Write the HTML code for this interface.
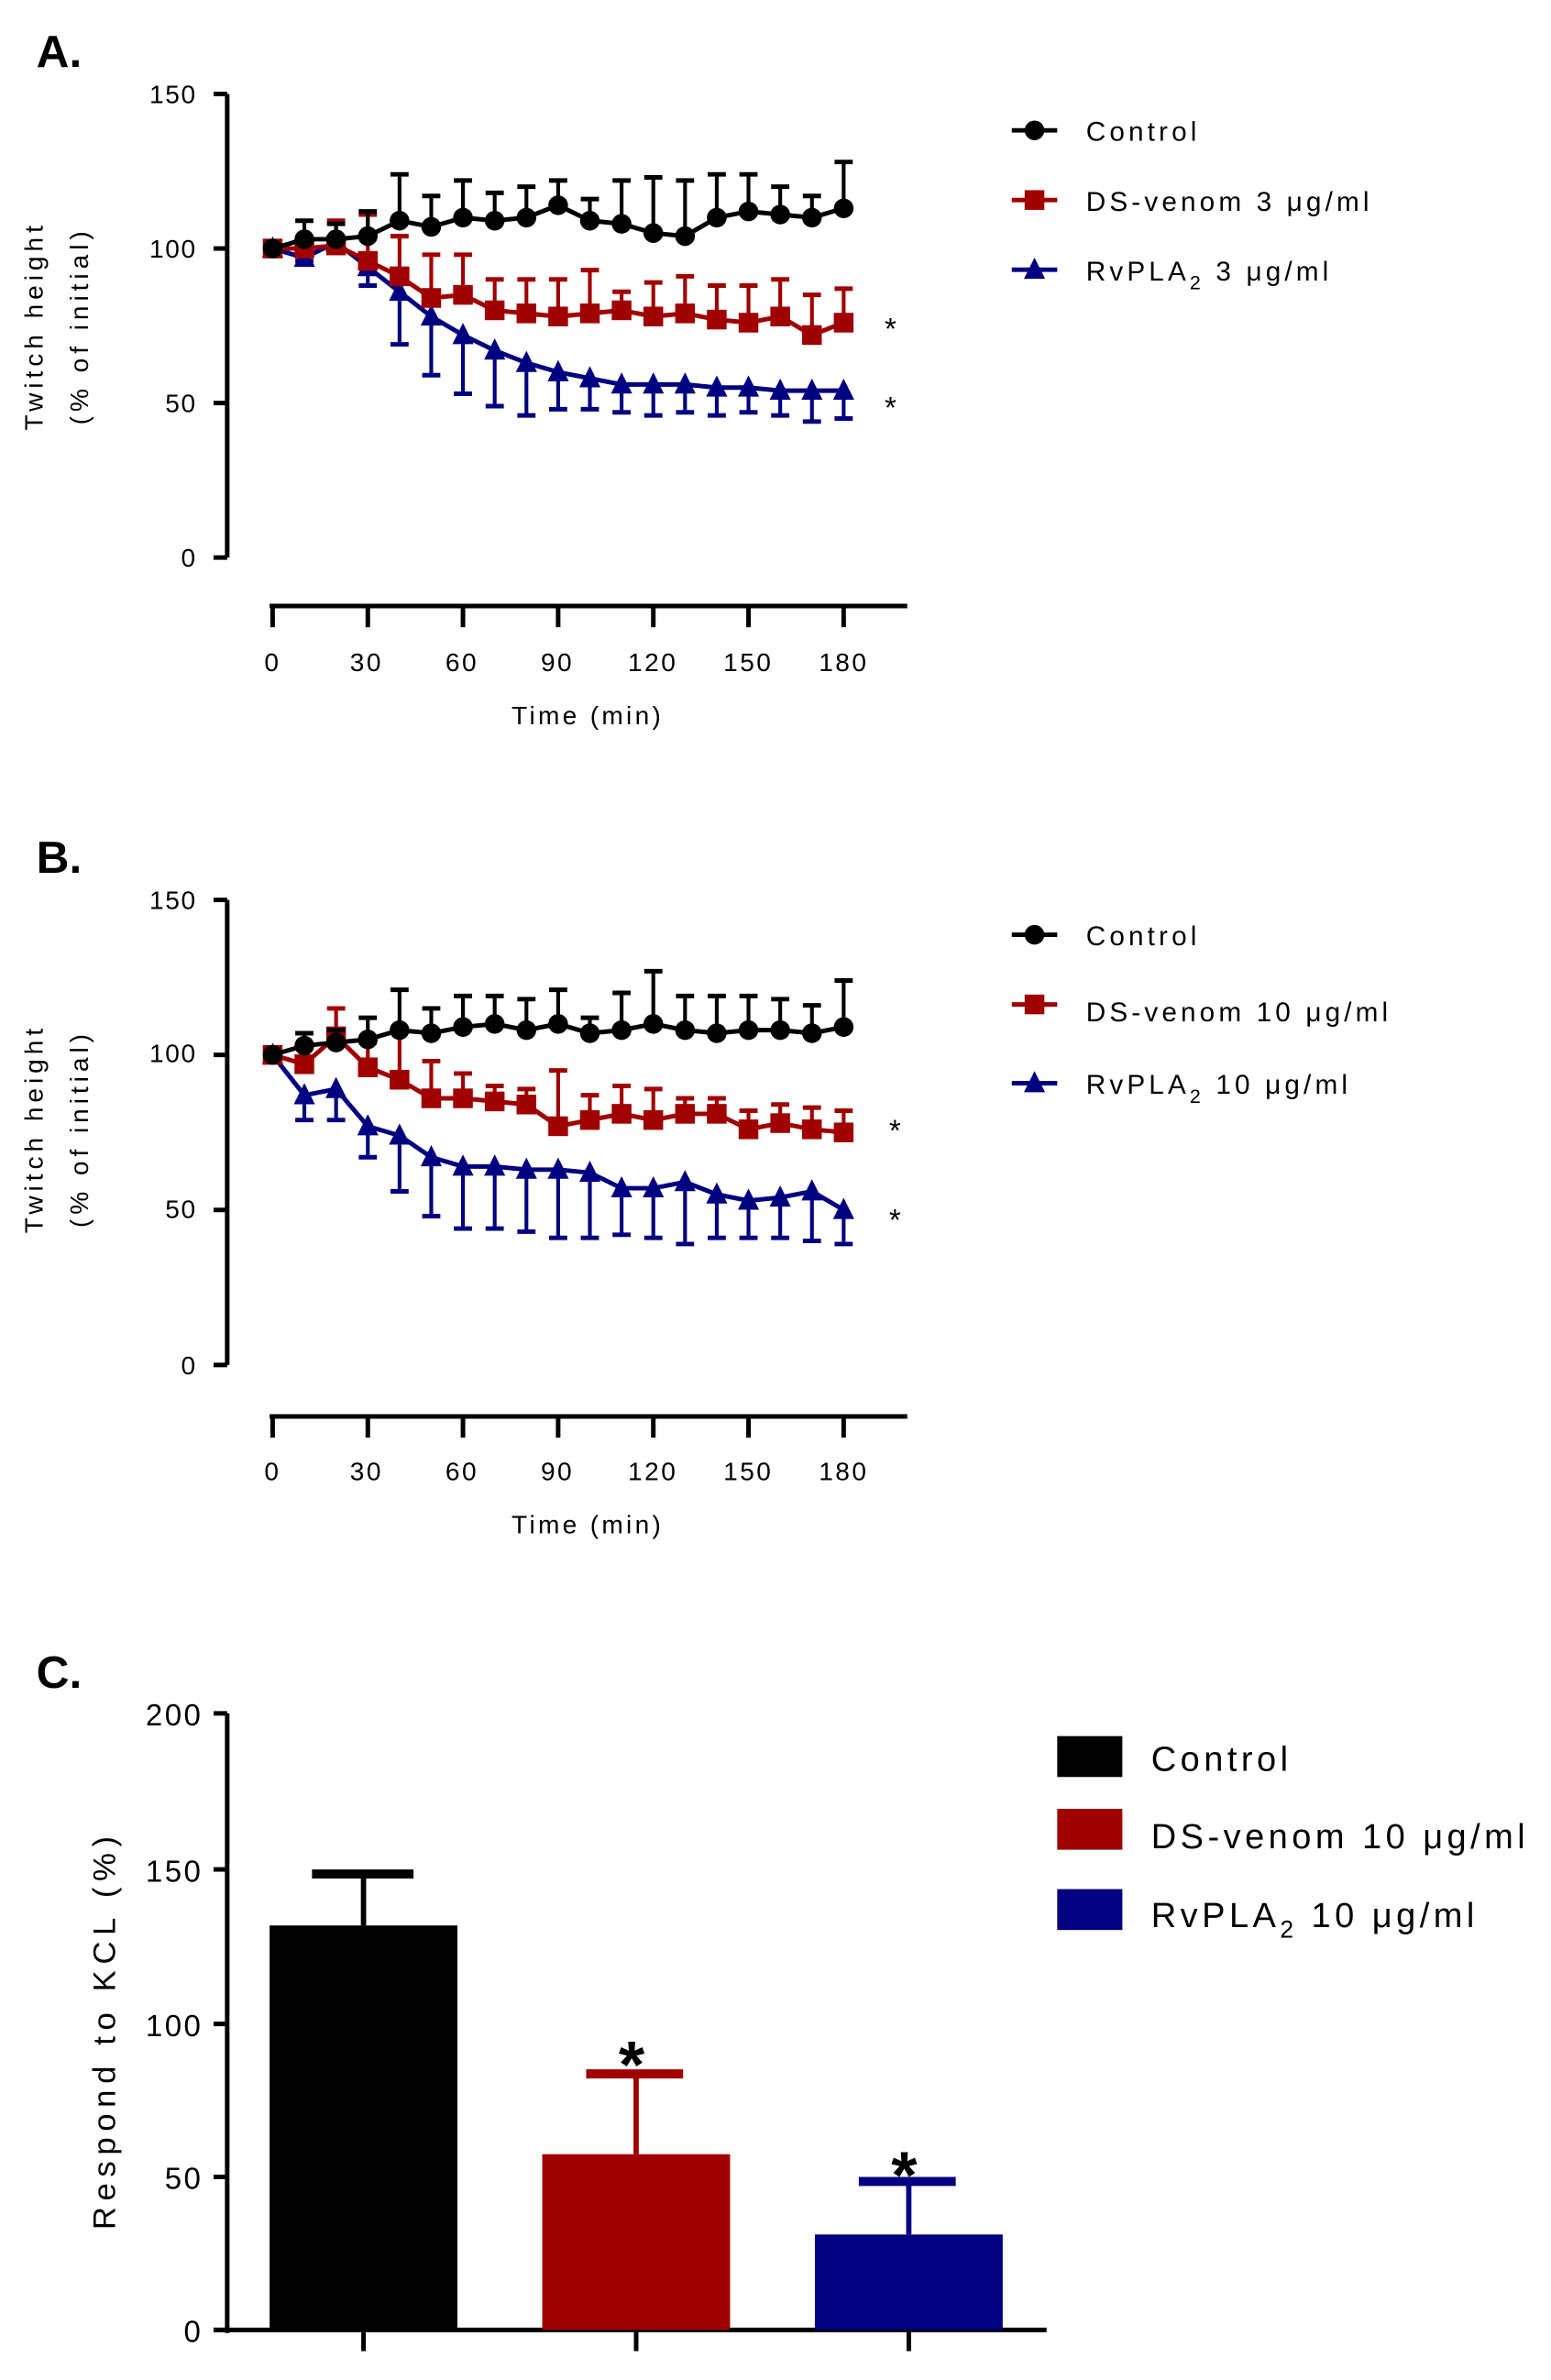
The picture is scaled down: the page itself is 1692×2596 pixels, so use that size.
<!DOCTYPE html>
<html><head><meta charset="utf-8"><style>
html,body{margin:0;padding:0;background:#fff}
svg{display:block}
text{font-family:"Liberation Sans",sans-serif;fill:#000}
</style></head><body>
<svg id="s" width="1692" height="2596" viewBox="0 0 1024 1571" xmlns="http://www.w3.org/2000/svg">
<!-- Panel A -->
<text x="24" y="44" font-size="30" font-weight="bold">A.</text>
<g id="A"></g>
<text x="130" y="68" font-size="17" text-anchor="end" letter-spacing="1">150</text>
<text x="130" y="170" font-size="17" text-anchor="end" letter-spacing="1">100</text>
<text x="130" y="272" font-size="17" text-anchor="end" letter-spacing="1">50</text>
<text x="130" y="374" font-size="17" text-anchor="end" letter-spacing="1">0</text>
<text transform="translate(28,215) rotate(-90)" font-size="17" text-anchor="middle" letter-spacing="3">Twitch height</text>
<text transform="translate(58,215) rotate(-90)" font-size="17" text-anchor="middle" letter-spacing="3">(% of initial)</text>
<g font-size="17" text-anchor="middle" letter-spacing="1.5">
<text x="180" y="443">0</text><text x="242" y="443">30</text><text x="305" y="443">60</text><text x="368" y="443">90</text><text x="431" y="443">120</text><text x="494" y="443">150</text><text x="557" y="443">180</text>
<text x="388" y="478" letter-spacing="2">Time (min)</text>
</g>
<g font-size="18" letter-spacing="2.5">
<text x="717" y="93">Control</text>
<text x="717" y="139">DS-venom 3 μg/ml</text>
<text x="717" y="185">RvPLA<tspan font-size="13" dy="6">2</tspan><tspan dy="-6"> 3 μg/ml</tspan></text>
</g>
<text x="584" y="224" font-size="20">*</text>
<text x="584" y="276" font-size="20">*</text>

<!-- Panel B -->
<text x="24" y="576" font-size="30" font-weight="bold">B.</text>
<g id="B"></g>
<text x="130" y="600" font-size="17" text-anchor="end" letter-spacing="1">150</text>
<text x="130" y="701" font-size="17" text-anchor="end" letter-spacing="1">100</text>
<text x="130" y="804" font-size="17" text-anchor="end" letter-spacing="1">50</text>
<text x="130" y="907" font-size="17" text-anchor="end" letter-spacing="1">0</text>
<text transform="translate(28,745) rotate(-90)" font-size="17" text-anchor="middle" letter-spacing="3">Twitch height</text>
<text transform="translate(58,745) rotate(-90)" font-size="17" text-anchor="middle" letter-spacing="3">(% of initial)</text>
<g font-size="17" text-anchor="middle" letter-spacing="1.5">
<text x="180" y="977">0</text><text x="242" y="977">30</text><text x="305" y="977">60</text><text x="368" y="977">90</text><text x="431" y="977">120</text><text x="494" y="977">150</text><text x="557" y="977">180</text>
<text x="388" y="1012" letter-spacing="2">Time (min)</text>
</g>
<g font-size="18" letter-spacing="2.5">
<text x="717" y="624">Control</text>
<text x="717" y="674">DS-venom 10 μg/ml</text>
<text x="717" y="722">RvPLA<tspan font-size="13" dy="6">2</tspan><tspan dy="-6"> 10 μg/ml</tspan></text>
</g>
<text x="587" y="753" font-size="20">*</text>
<text x="587" y="812" font-size="20">*</text>

<!-- Panel C -->
<text x="24" y="1114" font-size="30" font-weight="bold">C.</text>
<g stroke="#000" stroke-width="3">
<line x1="150" y1="1131" x2="150" y2="1540"/>
<line x1="141" y1="1131" x2="150" y2="1131"/><line x1="141" y1="1234" x2="150" y2="1234"/><line x1="141" y1="1336" x2="150" y2="1336"/><line x1="141" y1="1437" x2="150" y2="1437"/><line x1="141" y1="1538" x2="150" y2="1538"/>
<line x1="141" y1="1538" x2="691" y2="1538"/>
<line x1="240" y1="1538" x2="240" y2="1552"/><line x1="420" y1="1538" x2="420" y2="1552"/><line x1="600" y1="1538" x2="600" y2="1552"/>
</g>
<rect x="178" y="1271" width="124" height="267" fill="#000"/>
<rect x="358" y="1422" width="124" height="116" fill="#a00000"/>
<rect x="538" y="1475" width="124" height="63" fill="#000080"/>
<g stroke-width="3.5">
<line x1="240" y1="1271" x2="240" y2="1237" stroke="#000"/><line x1="206" y1="1237" x2="273" y2="1237" stroke="#000" stroke-width="6"/>
<line x1="420" y1="1422" x2="420" y2="1369" stroke="#a00000"/><line x1="387" y1="1369" x2="451" y2="1369" stroke="#a00000" stroke-width="6"/>
<line x1="600" y1="1475" x2="600" y2="1440" stroke="#000080"/><line x1="567" y1="1440" x2="631" y2="1440" stroke="#000080" stroke-width="6"/>
</g>
<text x="417" y="1378" font-size="44" font-weight="bold" text-anchor="middle">*</text>
<text x="597" y="1451" font-size="44" font-weight="bold" text-anchor="middle">*</text>
<g font-size="20" text-anchor="end" letter-spacing="1.5">
<text x="134" y="1139">200</text><text x="134" y="1242">150</text><text x="134" y="1344">100</text><text x="134" y="1445">50</text><text x="134" y="1546">0</text>
</g>
<text transform="translate(76,1340) rotate(-90)" font-size="21" text-anchor="middle" letter-spacing="4">Respond to KCL (%)</text>
<rect x="698" y="1146" width="43" height="27" fill="#000"/>
<rect x="698" y="1194" width="43" height="27" fill="#a00000"/>
<rect x="698" y="1247" width="43" height="27" fill="#000080"/>
<g font-size="23" letter-spacing="2.7">
<text x="760" y="1169">Control</text>
<text x="760" y="1220">DS-venom 10 μg/ml</text>
<text x="760" y="1272">RvPLA<tspan font-size="16" dy="7">2</tspan><tspan dy="-7"> 10 μg/ml</tspan></text>
</g>
</svg>
<script>
const NS="http://www.w3.org/2000/svg";
function el(p,t,a){const e=document.createElementNS(NS,t);for(const k in a)e.setAttribute(k,a[k]);p.appendChild(e);return e;}
function panel(id,y150,y0,xAxisY,data,legY){
  const g=document.getElementById(id);
  const sy=v=>y0-(y0-y150)*v/150, sx=t=>180+(557-180)*t/180;
  const ax={stroke:"#000","stroke-width":3};
  el(g,"line",{x1:150,y1:y150,x2:150,y2:y0,...ax});
  [0,50,100,150].forEach(v=>el(g,"line",{x1:141,y1:sy(v),x2:150,y2:sy(v),...ax}));
  el(g,"line",{x1:178,y1:xAxisY,x2:599,y2:xAxisY,...ax});
  for(let t=0;t<=180;t+=30)el(g,"line",{x1:sx(t),y1:xAxisY,x2:sx(t),y2:xAxisY+14,...ax});
  const cols=["#000","#a00000","#000080"];
  [2,1,0].forEach(si=>{
    const [m,e]=data[si];const c=cols[si];
    m.forEach((v,i)=>{if(e[i]==null)return;const x=sx(i*10);
      el(g,"line",{x1:x,y1:sy(v),x2:x,y2:sy(e[i]),stroke:c,"stroke-width":2.5});
      el(g,"line",{x1:x-6,y1:sy(e[i]),x2:x+6,y2:sy(e[i]),stroke:c,"stroke-width":3});});
    el(g,"polyline",{points:m.map((v,i)=>sx(i*10)+","+sy(v)).join(" "),fill:"none",stroke:c,"stroke-width":3});
    m.forEach((v,i)=>{const x=sx(i*10),y=sy(v);
      if(si==0)el(g,"circle",{cx:x,cy:y,r:6.5,fill:c});
      else if(si==1)el(g,"rect",{x:x-6.5,y:y-6.5,width:13,height:13,fill:c});
      else el(g,"polygon",{points:`${x},${y-8} ${x-7},${y+6} ${x+7},${y+6}`,fill:c});});
  });
  legY.forEach((y,si)=>{const c=cols[si];
    el(g,"line",{x1:668,y1:y,x2:698,y2:y,stroke:c,"stroke-width":3});
    if(si==0)el(g,"circle",{cx:683,cy:y,r:6.5,fill:c});
    else if(si==1)el(g,"rect",{x:676.5,y:y-6.5,width:13,height:13,fill:c});
    else el(g,"polygon",{points:`683,${y-8} 676,${y+6} 690,${y+6}`,fill:c});});
}
const n=null;
panel("A",62,368,400,[
 [[100,103,103,104,109,107,110,109,110,114,109,108,105,104,110,112,111,110,113],
  [n,109,108,112,124,117,122,118,120,122,116,122,123,122,124,124,120,117,128]],
 [[100,100,101,96,91,84,85,80,79,78,79,80,78,79,77,76,78,72,76],
  [n,n,109,111,104,98,98,90,90,90,93,86,89,91,88,88,90,85,87]],
 [[100,97,102,94,86,78,72,67,63,60,58,56,56,56,55,55,54,54,54],
  [n,96,n,88,69,59,53,49,46,48,48,47,46,47,46,47,46,44,45]]
],[86,132,178]);
panel("B",594,901,935,[
 [[100,103,104,105,108,107,109,110,108,110,107,108,110,108,107,108,108,107,109],
  [n,107,108,112,121,115,119,119,118,121,112,120,127,119,119,119,118,116,124]],
 [[100,97,106,96,92,86,86,85,84,77,79,81,79,81,81,76,78,76,75],
  [n,n,115,104,108,98,94,90,89,95,87,90,89,86,86,82,84,83,82]],
 [[100,87,89,77,74,67,64,64,63,63,62,57,57,59,55,53,54,56,50],
  [n,79,79,67,56,48,44,44,43,41,41,42,41,39,41,41,41,40,39]]
],[617,663,715]);
</script>
</body></html>
